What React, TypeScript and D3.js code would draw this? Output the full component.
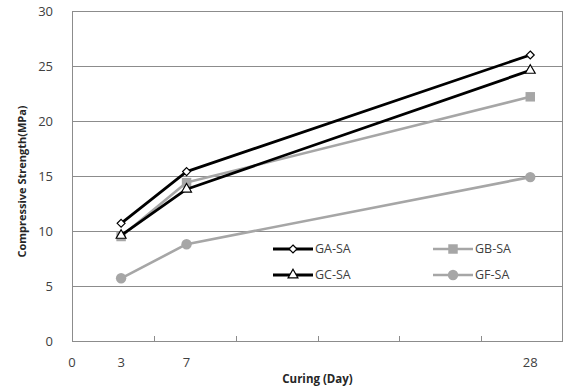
import { useEffect, useRef } from 'react';
import * as d3 from 'd3';

// curing days and strength (MPa)
const days = [3, 7, 28];
const gaSa = [10.7, 15.4, 26.0];
const gbSa = [9.5, 14.4, 22.2];
const gcSa = [9.6, 13.8, 24.6];
const gfSa = [5.7, 8.8, 14.9];

const xTickValues = [0, 3, 7, 28];
const yTickValues = [0, 5, 10, 15, 20, 25, 30];

const BLACK = '#000000';
const GRAY = '#a6a6a6';

type Marker = 'diamond' | 'triangle' | 'square' | 'circle';

const series: { name: string; values: number[]; color: string; marker: Marker; hollow: boolean }[] = [
  { name: 'GB-SA', values: gbSa, color: GRAY, marker: 'square', hollow: false },
  { name: 'GF-SA', values: gfSa, color: GRAY, marker: 'circle', hollow: false },
  { name: 'GC-SA', values: gcSa, color: BLACK, marker: 'triangle', hollow: true },
  { name: 'GA-SA', values: gaSa, color: BLACK, marker: 'diamond', hollow: true },
];

const legendOrder = ['GA-SA', 'GB-SA', 'GC-SA', 'GF-SA'];

const FONT = '"Open Sans", "DejaVu Sans", sans-serif';

export default function App() {
  const svgRef = useRef<SVGSVGElement>(null);
  const width = 565;
  const height = 386;

  useEffect(() => {
    if (!svgRef.current) return;
    const svg = d3.select(svgRef.current);
    svg.selectAll('*').remove();

    const margin = { top: 11, right: 2, bottom: 45, left: 72 };
    const innerWidth = width - margin.left - margin.right;
    const innerHeight = height - margin.top - margin.bottom;

    const x = d3.scaleLinear().domain([0, 30]).range([0, innerWidth]);
    const y = d3.scaleLinear().domain([0, 30]).range([innerHeight, 0]);

    svg.append('rect').attr('width', width).attr('height', height).attr('fill', '#fff');

    const g = svg.append('g').attr('transform', `translate(${margin.left},${margin.top})`);

    // horizontal gridlines
    g.append('g')
      .selectAll('line')
      .data(yTickValues)
      .enter()
      .append('line')
      .attr('x1', 0)
      .attr('x2', innerWidth)
      .attr('y1', d => Math.round(y(d)) + 0.5)
      .attr('y2', d => Math.round(y(d)) + 0.5)
      .attr('stroke', '#8c8c8c')
      .attr('stroke-width', 1);

    // plot border (left / right)
    g.append('line')
      .attr('x1', 0.5).attr('x2', 0.5)
      .attr('y1', 0).attr('y2', innerHeight)
      .attr('stroke', '#8c8c8c');
    g.append('line')
      .attr('x1', innerWidth - 0.5).attr('x2', innerWidth - 0.5)
      .attr('y1', 0).attr('y2', innerHeight)
      .attr('stroke', '#8c8c8c');

    // x tick marks every 5 days, pointing inward
    g.append('g')
      .selectAll('line')
      .data(d3.range(5, 30, 5))
      .enter()
      .append('line')
      .attr('x1', d => Math.round(x(d)) + 0.5)
      .attr('x2', d => Math.round(x(d)) + 0.5)
      .attr('y1', innerHeight)
      .attr('y2', innerHeight - 5)
      .attr('stroke', '#8c8c8c');

    // y tick labels
    g.append('g')
      .selectAll('text')
      .data(yTickValues)
      .enter()
      .append('text')
      .attr('x', -19)
      .attr('y', d => y(d))
      .attr('dy', '0.35em')
      .attr('text-anchor', 'end')
      .attr('font-family', FONT)
      .attr('font-size', 13)
      .attr('fill', '#404040')
      .text(d => d);

    // x tick labels (only the curing ages)
    g.append('g')
      .selectAll('text')
      .data(xTickValues)
      .enter()
      .append('text')
      .attr('x', d => x(d))
      .attr('y', innerHeight + 26)
      .attr('text-anchor', 'middle')
      .attr('font-family', FONT)
      .attr('font-size', 13)
      .attr('fill', '#404040')
      .text(d => d);

    // axis titles
    g.append('text')
      .attr('x', x(15))
      .attr('y', innerHeight + 42)
      .attr('text-anchor', 'middle')
      .attr('font-family', FONT)
      .attr('font-size', 11.5)
      .attr('font-weight', 'bold')
      .attr('fill', '#262626')
      .text('Curing (Day)');

    g.append('text')
      .attr('transform', `translate(${-46},${y(14.5)}) rotate(-90)`)
      .attr('text-anchor', 'middle')
      .attr('font-family', FONT)
      .attr('font-size', 11)
      .attr('font-weight', 'bold')
      .attr('fill', '#262626')
      .text('Compressive Strength(MPa)');

    const symbolFor = (m: Marker) =>
      m === 'diamond' ? d3.symbolDiamond2 : m === 'triangle' ? d3.symbolTriangle : m === 'square' ? d3.symbolSquare : d3.symbolCircle;
    const sizeFor = (m: Marker) => (m === 'diamond' ? 40 : m === 'triangle' ? 42 : m === 'square' ? 90 : 85);

    const line = d3.line<number>()
      .x((_, i) => x(days[i]))
      .y(d => y(d));

    // series lines and markers
    series.forEach(s => {
      g.append('path')
        .datum(s.values)
        .attr('d', line)
        .attr('fill', 'none')
        .attr('stroke', s.color)
        .attr('stroke-width', s.color === BLACK ? 2.8 : 2.6)
        .attr('stroke-linejoin', 'round');

      g.selectAll(null)
        .data(s.values)
        .enter()
        .append('path')
        .attr('transform', (d, i) => `translate(${x(days[i])},${y(d)})`)
        .attr('d', d3.symbol().type(symbolFor(s.marker)).size(sizeFor(s.marker))())
        .attr('fill', s.hollow ? '#fff' : s.color)
        .attr('stroke', s.color)
        .attr('stroke-width', s.hollow ? 1.2 : 0);
    });

    // legend
    const legend = svg.append('g');
    legendOrder.forEach((name, i) => {
      const s = series.find(d => d.name === name)!;
      const col = i % 2;
      const row = Math.floor(i / 2);
      const lx = 273 + col * 160;
      const ly = 249 + row * 26;
      legend.append('line')
        .attr('x1', lx).attr('x2', lx + 40)
        .attr('y1', ly).attr('y2', ly)
        .attr('stroke', s.color)
        .attr('stroke-width', s.color === BLACK ? 2.8 : 2.6);
      legend.append('path')
        .attr('transform', `translate(${lx + 20},${ly})`)
        .attr('d', d3.symbol().type(symbolFor(s.marker)).size(sizeFor(s.marker))())
        .attr('fill', s.hollow ? '#fff' : s.color)
        .attr('stroke', s.color)
        .attr('stroke-width', s.hollow ? 1.2 : 0);
      legend.append('text')
        .attr('x', lx + 42)
        .attr('y', ly)
        .attr('dy', '0.35em')
        .attr('font-family', FONT)
        .attr('font-size', 12.5)
        .attr('fill', '#404040')
        .text(name);
    });
  }, []);

  return (
    <svg
      ref={svgRef}
      width={width}
      height={height}
      style={{ position: 'absolute', left: 0, top: 0, display: 'block' }}
    />
  );
}
